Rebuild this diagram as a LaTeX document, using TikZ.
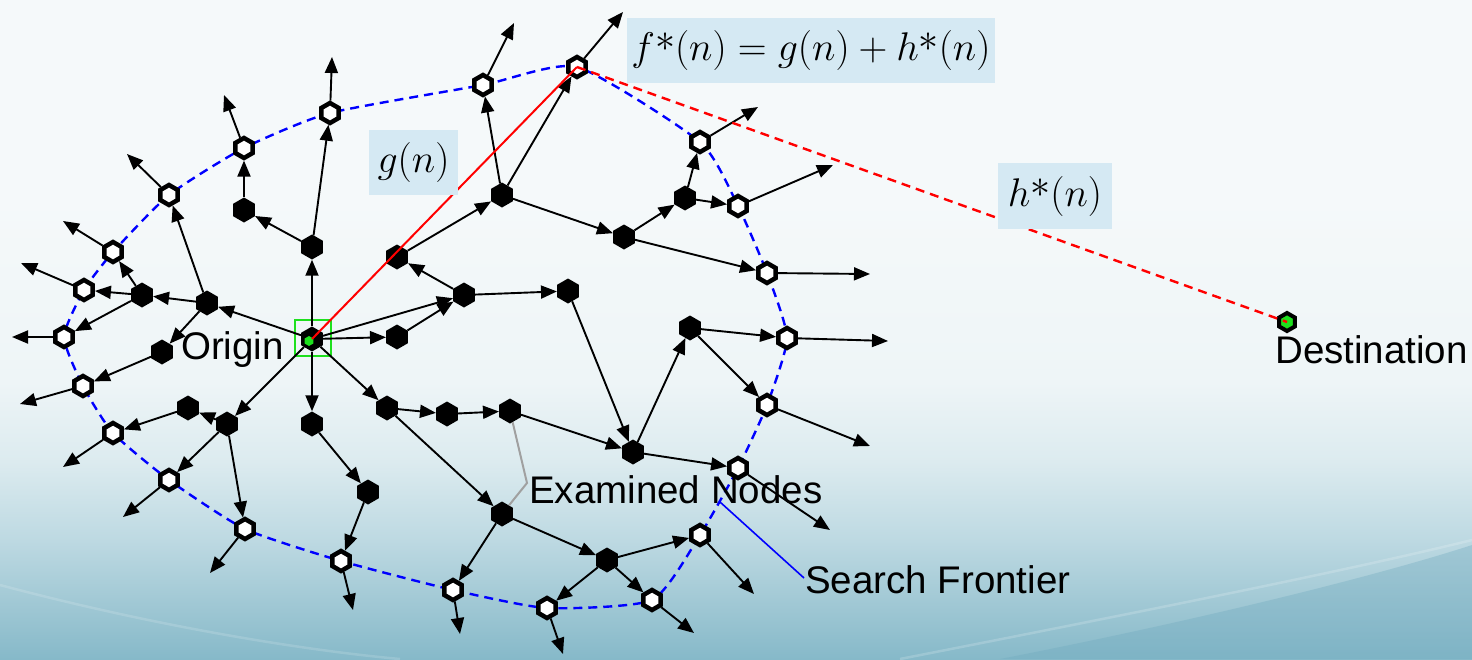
\RequirePackage{fix-cm}
\documentclass[tikz,border=0pt]{standalone}
\usepackage{amsmath}
\usepackage{fontspec}
\setmainfont{Liberation Sans}
\usetikzlibrary{shapes.geometric,arrows.meta}
\definecolor{bgtop}{HTML}{F5F9FA}
\definecolor{bgA}{HTML}{EEF5F7}
\definecolor{bgB}{HTML}{DCEBEF}
\definecolor{bgC}{HTML}{BDD9E2}
\definecolor{bgD}{HTML}{A2C9D5}
\definecolor{bgbot}{HTML}{86B9C9}
\definecolor{corner}{HTML}{6FA9BE}
\definecolor{boxblue}{HTML}{D5E9F3}
\definecolor{brightgreen}{HTML}{1EE01E}
\definecolor{leadgray}{HTML}{A0A0A0}
\pgfdeclarelayer{bg}
\pgfsetlayers{bg,main}
\pgfdeclareverticalshading{bgshade}{100bp}{color(0bp)=(bgbot); color(25bp)=(bgbot); color(29.5bp)=(bgD); color(34bp)=(bgC); color(40bp)=(bgB); color(46bp)=(bgA); color(60bp)=(bgtop); color(100bp)=(bgtop)}
\newcommand{\mstar}{\mathord{\raisebox{0.22em}{$\ast$}}}
\begin{document}
\begin{tikzpicture}[x=1pt,y=-1pt,
  hexa/.style={regular polygon, regular polygon sides=6, shape border rotate=30, inner sep=0pt},
  ex/.style={hexa, fill=black, minimum size=25pt},
  fr/.style={hexa, fill=white, draw=black, line width=4.5pt, minimum size=20pt},
  ar/.style={-{Triangle[length=16pt,width=13pt]}, line width=1.9pt, black},
  frontier/.style={blue, line width=2.4pt, dash pattern=on 9pt off 6pt},
  hdash/.style={red, line width=2.4pt, dash pattern=on 9pt off 6pt},
  lbl/.style={font=\fontsize{38.5}{44}\selectfont, inner sep=0pt},
  mbox/.style={fill=boxblue, font=\fontsize{40}{46}\selectfont, inner sep=0pt}]
\useasboundingbox (0,0) rectangle (1472,659);
\begin{pgfonlayer}{bg}
\shade[shading=bgshade] (0,0) rectangle (1472,659);
\fill[corner, opacity=0.35] (1000,659) .. controls (1200,620) and (1380,575) .. (1472,545) -- (1472,659) -- cycle;
\draw[white, opacity=0.18, line width=2.5pt] (900,659) .. controls (1150,610) and (1350,570) .. (1472,540);
\draw[white, opacity=0.15, line width=2.5pt] (0,585) .. controls (150,625) and (300,650) .. (400,659);
\end{pgfonlayer}
% origin
\node[hexa, fill=black, minimum size=25pt] (O) at (312,339) {};
\node[hexa, fill=brightgreen, minimum size=10pt] (Og) at (309,341) {};
\node[draw=brightgreen, line width=2.2pt, minimum width=36pt, minimum height=36pt, inner sep=0pt] (Osq) at (313,338) {};
% examined nodes
\node[ex] (B1) at (244,210) {};
\node[ex] (B2) at (312,247) {};
\node[ex] (B3) at (142,295) {};
\node[ex] (B4) at (207,303) {};
\node[ex] (B5) at (162,352) {};
\node[ex] (B6) at (312,424) {};
\node[ex] (B7) at (368,492) {};
\node[ex] (B8) at (227,424) {};
\node[ex] (B9) at (188,408) {};
\node[ex] (B10) at (397,337) {};
\node[ex] (B11) at (464,295) {};
\node[ex] (B12) at (387,408) {};
\node[ex] (B13) at (447,414) {};
\node[ex] (B14) at (510,411) {};
\node[ex] (B15) at (633,452) {};
\node[ex] (B16) at (568,291) {};
\node[ex] (B17) at (690,328) {};
\node[ex] (B18) at (502,514) {};
\node[ex] (B19) at (607,560) {};
\node[ex] (B20) at (502,195) {};
\node[ex] (B21) at (397,257) {};
\node[ex] (B22) at (624,237) {};
\node[ex] (B23) at (685,198) {};
% frontier nodes
\node[fr] (F1) at (330,113) {};
\node[fr] (F2) at (244,148) {};
\node[fr] (F3) at (169,195) {};
\node[fr] (F4) at (113,252) {};
\node[fr] (F5) at (84,290) {};
\node[fr] (F6) at (64,337) {};
\node[fr] (F7) at (83,386) {};
\node[fr] (F8) at (113,433) {};
\node[fr] (F9) at (169,480) {};
\node[fr] (F10) at (245,529) {};
\node[fr] (F11) at (341,561) {};
\node[fr] (F12) at (738,468) {};
\node[fr] (F13) at (453,590) {};
\node[fr] (F14) at (547,608) {};
\node[fr] (F15) at (652,600) {};
\node[fr] (F16) at (700,535) {};
\node[fr] (F17) at (787,338) {};
\node[fr] (F18) at (767,405) {};
\node[fr] (F19) at (483,85) {};
\node[fr] (F20) at (577,67) {};
\node[fr] (F21) at (767,273) {};
\node[fr] (F22) at (700,142) {};
\node[fr] (F23) at (738,206) {};
% destination
\node[hexa, fill=brightgreen, draw=black, line width=4pt, minimum size=18pt] (D) at (1287,322) {};
% free ends
\coordinate (e1) at (332,57);
\coordinate (e2) at (224,95);
\coordinate (e3) at (127,154);
\coordinate (e4) at (63,221);
\coordinate (e5) at (21,263);
\coordinate (e6) at (12,337);
\coordinate (e7) at (20,404);
\coordinate (e8) at (63,467);
\coordinate (e9) at (123,517);
\coordinate (e10) at (210,573);
\coordinate (e11) at (353,610);
\coordinate (e12) at (830,530);
\coordinate (e13) at (460,634);
\coordinate (e14) at (563,654);
\coordinate (e15) at (694,633);
\coordinate (e16) at (754,594);
\coordinate (e17) at (888,341);
\coordinate (e18) at (870,446);
\coordinate (e19) at (514,23);
\coordinate (e20) at (623,12);
\coordinate (e21) at (870,274);
\coordinate (e22) at (758,107);
\coordinate (e23) at (833,165);
% frontier line
\begin{pgfonlayer}{bg}
\draw[frontier] plot[smooth cycle, tension=0.35] coordinates {(F6.center) (F5.center) (F4.center) (F3.center) (F2.center) (F1.center) (F19.center) (F20.center) (F22.center) (F23.center) (F21.center) (F17.center) (F18.center) (F12.center) (F16.center) (F15.center) (F14.center) (F13.center) (F11.center) (F10.center) (F9.center) (F8.center) (F7.center)};
\end{pgfonlayer}
% tree edges
\foreach \a/\b in {O/B2, B2/B1, B2/F1, B1/F2, O/B4, B4/B3, B4/F3, B4/B5, B3/F5, B3/F4, B3/F6, B5/F7,
  O/B8, B8/B9, B8/F9, B8/F10, B9/F8, O/B6, B6/B7, B7/F11, O/B10, B10/B11, O/B11, B11/B21, B11/B16,
  B21/B20, B20/F19, B20/F20, B20/B22, B22/F21, B22/B23, B23/F22, B23/F23, B16/B15,
  O/B12, B12/B13, B13/B14, B14/B15, B12/B18, B15/B17, B15/F12, B17/F17, B17/F18,
  B18/F13, B18/B19, B19/F14, B19/F15, B19/F16}
  \draw[ar] (\a) -- (\b);
\foreach \i in {1,...,23}
  \draw[ar] (F\i) -- (e\i);
% heuristic lines
\draw[red, line width=2pt] (O.center) -- (F20.center);
\draw[hdash] (F20.center) -- (D.center);
% leaders
\coordinate (gk) at (527,483);
\draw[leadgray, line width=2pt] (B14) -- (gk) -- (B18);
\coordinate (sfa) at (804,578);
\coordinate (sfb) at (720,502);
\draw[blue, line width=1.6pt] (sfa) -- (sfb);
% labels
\node[lbl, anchor=base east] (tOrigin) at (284,359) {Origin};
\node[lbl, anchor=base west] (tExam) at (529,503) {Examined Nodes};
\node[lbl, anchor=base west] (tSearch) at (805,593) {Search Frontier};
\node[lbl, anchor=base west] (tDest) at (1275,363) {Destination};
\node[mbox, minimum width=89pt, minimum height=65pt] (tg) at (413.5,162.5) {$g(n)$};
\node[mbox, minimum width=368pt, minimum height=65pt] (tf) at (811,50.5) {$f\mstar(n)=g(n)+h\mstar(n)$};
\node[mbox, minimum width=114pt, minimum height=66pt] (th) at (1055,196) {$h\mstar(n)$};
\end{tikzpicture}
\end{document}
